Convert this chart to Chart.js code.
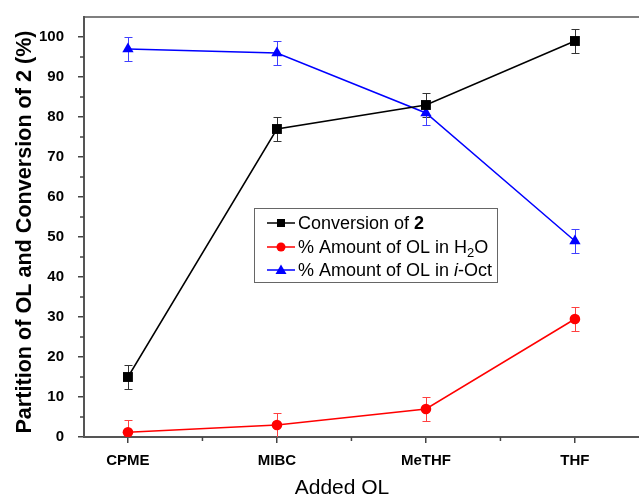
<!DOCTYPE html>
<html><head><meta charset="utf-8">
<script src="https://cdn.jsdelivr.net/npm/chart.js@4.4.1/dist/chart.umd.min.js"></script>
<style>html,body{margin:0;padding:0;background:#fff}#wrap{width:639px;height:497px;position:relative}</style>
</head><body><div id="wrap"><canvas id="c" width="639" height="497"></canvas></div>
<script>
const categories = ["CPME", "MIBC", "MeTHF", "THF"];
const conversion = [15, 77, 83, 99];
const conversionErr = [3, 3, 3, 3];
const h2o = [1.2, 3, 7, 29.5];
const h2oErr = [3, 3, 3, 3];
const iOct = [97, 96, 81, 49];
const iOctErr = [3, 3, 3, 3];
const yTicks = [0, 10, 20, 30, 40, 50, 60, 70, 80, 90, 100];

const FONT = "'Liberation Sans', Arial, sans-serif";
const toPts = arr => arr.map((v, i) => ({x: i + 1, y: v}));
const errs = [conversionErr, h2oErr, iOctErr];
const errColors = ['#333333', '#ff4040', '#4040ff'];

const framePlugin = {
  id: 'frame',
  beforeDatasetsDraw(chart) {
    const {ctx, chartArea: a, scales: {x, y}} = chart;
    ctx.save();
    ctx.beginPath(); ctx.rect(a.left, a.top, a.right - a.left, a.bottom - a.top); ctx.clip();
    chart.data.datasets.forEach((ds, di) => {
      ctx.strokeStyle = errColors[di]; ctx.lineWidth = 1;
      ds.data.forEach((p, i) => {
        const e = errs[di][i];
        const px = Math.round(x.getPixelForValue(p.x)) + 0.5;
        const t = y.getPixelForValue(p.y + e), b = y.getPixelForValue(p.y - e);
        ctx.beginPath();
        ctx.moveTo(px, t); ctx.lineTo(px, b);
        ctx.moveTo(px - 4, Math.round(t) + 0.5); ctx.lineTo(px + 4, Math.round(t) + 0.5);
        ctx.moveTo(px - 4, Math.round(b) + 0.5); ctx.lineTo(px + 4, Math.round(b) + 0.5);
        ctx.stroke();
      });
    });
    ctx.restore();
  },
  afterDraw(chart) {
    const {ctx, chartArea: a, scales: {x, y}} = chart;
    ctx.save();
    ctx.strokeStyle = '#555'; ctx.lineWidth = 1.5;
    ctx.beginPath(); ctx.moveTo(a.left, a.top); ctx.lineTo(chart.width, a.top); ctx.stroke();
    ctx.lineWidth = 1.5; ctx.strokeStyle = '#444';
    for (let v = 5; v < 105; v += 10) {
      const py = y.getPixelForValue(v);
      ctx.beginPath(); ctx.moveTo(a.left - 4, py); ctx.lineTo(a.left, py); ctx.stroke();
    }
    for (let v = 1.5; v < 4.4; v += 1) {
      const px = x.getPixelForValue(v);
      ctx.beginPath(); ctx.moveTo(px, a.bottom); ctx.lineTo(px, a.bottom + 4); ctx.stroke();
    }
    ctx.fillStyle = '#000';
    ctx.font = '21px ' + FONT; ctx.textAlign = 'center'; ctx.textBaseline = 'alphabetic';
    ctx.fillText('Added OL', 342, 494);
    ctx.save();
    ctx.translate(31, 232); ctx.rotate(-Math.PI / 2);
    ctx.font = 'bold 21.6px ' + FONT;
    ctx.fillText('Partition of OL and Conversion of 2 (%)', 0, 0);
    ctx.restore();
    // legend
    const lx = 254, ly = 208, lw = 243, lh = 74;
    ctx.fillStyle = '#fff'; ctx.fillRect(lx, ly, lw, lh);
    ctx.strokeStyle = '#666'; ctx.lineWidth = 1;
    ctx.strokeRect(lx + 0.5, ly + 0.5, lw, lh);
    const rows = [223, 247, 270];
    const cols = ['#000', '#ff0000', '#0000ff'];
    rows.forEach((ry, i) => {
      ctx.strokeStyle = cols[i]; ctx.fillStyle = cols[i]; ctx.lineWidth = 1.5;
      ctx.beginPath(); ctx.moveTo(267, ry); ctx.lineTo(295, ry); ctx.stroke();
      ctx.beginPath();
      if (i === 0) ctx.rect(277, ry - 4, 8, 8);
      else if (i === 1) ctx.arc(281, ry, 4.5, 0, Math.PI * 2);
      else { ctx.moveTo(281, ry - 5.5); ctx.lineTo(286.5, ry + 4); ctx.lineTo(275.5, ry + 4); ctx.closePath(); }
      ctx.fill();
    });
    ctx.fillStyle = '#000'; ctx.textAlign = 'left'; ctx.textBaseline = 'middle';
    const seg = (parts, x0, yy) => {
      let cx = x0;
      parts.forEach(([txt, f, dy]) => {
        ctx.font = f; ctx.fillText(txt, cx, yy + (dy || 0)); cx += ctx.measureText(txt).width;
      });
    };
    const R = '18px ' + FONT, B = 'bold 18px ' + FONT, I = 'italic 18px ' + FONT, S = '13px ' + FONT;
    seg([['Conversion of ', R], ['2', B]], 298, rows[0] + 1);
    seg([['% Amount of OL in H', R], ['2', S, 5], ['O', R]], 298, rows[1] + 1);
    seg([['% Amount of OL in ', R], ['i', I], ['-Oct', R]], 298, rows[2] + 1);
    ctx.restore();
  }
};

new Chart(document.getElementById('c'), {
  type: 'line',
  data: {
    datasets: [
      {label: 'Conversion of 2', data: toPts(conversion), borderColor: '#000', backgroundColor: '#000',
       borderWidth: 1.5, pointStyle: 'rect', pointRadius: 7, pointBorderWidth: 0},
      {label: '% Amount of OL in H2O', data: toPts(h2o), borderColor: '#ff0000', backgroundColor: '#ff0000',
       borderWidth: 1.5, pointStyle: 'circle', pointRadius: 5.3, pointBorderWidth: 0},
      {label: '% Amount of OL in i-Oct', data: toPts(iOct), borderColor: '#0000ff', backgroundColor: '#0000ff',
       borderWidth: 1.5, pointStyle: 'triangle', pointRadius: 6.5, pointBorderWidth: 0}
    ]
  },
  options: {
    responsive: false, animation: false,
    layout: {autoPadding: false, padding: {top: 17, right: 0, left: 0, bottom: 0}},
    plugins: {legend: {display: false}, tooltip: {enabled: false}},
    scales: {
      x: {
        type: 'linear', min: 0.705, max: 4.43,
        afterBuildTicks: s => { s.ticks = categories.map((c, i) => ({value: i + 1})); },
        afterFit: s => { s.height = 60; s.paddingLeft = 0; s.paddingRight = 0; },
        ticks: {callback: v => categories[v - 1] || '', color: '#000', font: {family: FONT, size: 15, weight: 'bold'}, padding: 9, maxRotation: 0},
        grid: {drawOnChartArea: false, drawTicks: true, tickLength: 6, color: '#444', lineWidth: 1.5},
        border: {display: true, color: '#555', width: 2}
      },
      y: {
        type: 'linear', min: 0, max: 105,
        afterBuildTicks: s => { s.ticks = yTicks.map(v => ({value: v})); },
        afterFit: s => { s.width = 84; s.paddingTop = 0; s.paddingBottom = 0; },
        ticks: {color: '#000', font: {family: FONT, size: 15, weight: 'bold'}, padding: 14},
        grid: {drawOnChartArea: false, drawTicks: true, tickLength: 6, color: '#444', lineWidth: 1.5},
        border: {display: true, color: '#555', width: 2}
      }
    }
  },
  plugins: [framePlugin]
});
</script></body></html>
